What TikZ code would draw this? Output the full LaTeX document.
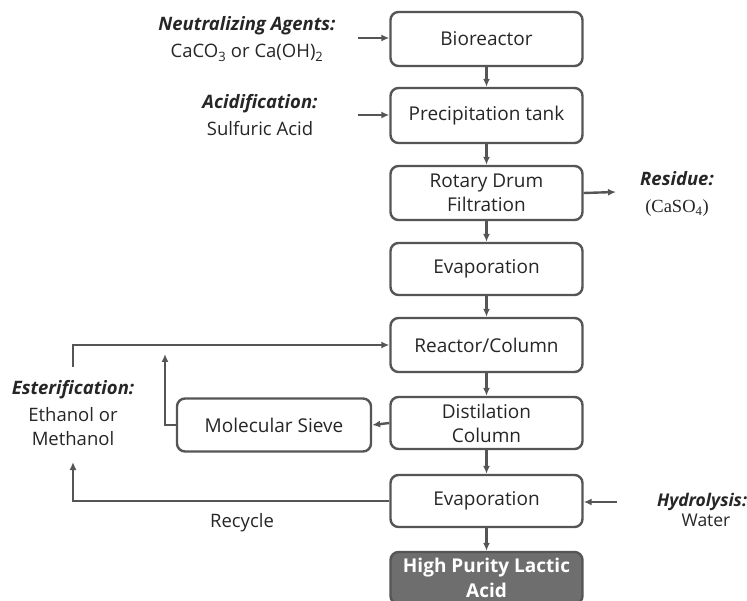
\documentclass[tikz,border=0pt]{standalone}
\usepackage{fontspec}
\setmainfont{Open Sans}
\newfontfamily\serifpart{Liberation Serif}
\usetikzlibrary{arrows.meta}
\definecolor{lc}{HTML}{555555}
\definecolor{tc}{HTML}{262626}
\definecolor{darkbox}{HTML}{6E6E6E}
\begin{document}
\begin{tikzpicture}[x=1pt,y=-1pt,
  stepbox/.style={draw=lc,line width=2.4pt,rounded corners=8pt,minimum width=192pt,inner sep=0pt,align=center,text=tc,font=\fontsize{19}{24}\selectfont},
  lbl/.style={align=center,text=tc,font=\fontsize{18.5}{27}\selectfont,inner sep=0pt},
  conn/.style={draw=lc,line width=2.4pt,-{Latex[length=8pt,width=7pt]}},
  plain/.style={draw=lc,line width=2.4pt}]
\clip (0,0) rectangle (747,601);
\fill[white] (0,0) rectangle (747,601);
\node[stepbox,minimum height=54pt] (bio) at (486.5,39) {Bioreactor};
\node[stepbox,minimum height=55pt] (prec) at (486.5,115.5) {Precipitation tank};
\node[stepbox,minimum height=54pt] (rot) at (486.5,193) {Rotary Drum\\Filtration};
\node[stepbox,minimum height=52pt] (evap1) at (486.5,269) {Evaporation};
\node[stepbox,minimum height=54pt] (reac) at (486.5,345) {Reactor/Column};
\node[stepbox,minimum height=52pt] (dist) at (486.5,423) {Distilation\\Column};
\node[stepbox,minimum height=52pt] (evap2) at (486.5,501) {Evaporation};
\node[stepbox,minimum height=52pt,fill=darkbox,text=white,font=\fontsize{19}{25}\selectfont\bfseries] (hp) at (486.5,578) {High Purity Lactic\\Acid};
\node[stepbox,minimum width=194pt,minimum height=53pt] (sieve) at (274,425) {Molecular Sieve};

\node[lbl] (neut) at (247,39) {\textbf{\textit{Neutralizing Agents:}}\\CaCO\textsubscript{3} or Ca(OH)\textsubscript{2}};
\node[lbl] (acid) at (260,115) {\textbf{\textit{Acidification:}}\\Sulfuric Acid};
\node[lbl] (res) at (677,194) {\textbf{\textit{Residue:}}\\{\serifpart (CaSO\textsubscript{4})}};
\node[lbl] (est) at (73,413) {\textbf{\textit{Esterification:}}\\Ethanol or\\[-3pt]Methanol};
\node[lbl,font=\fontsize{17.5}{27}\selectfont] (hyd) at (702,510) {\textbf{\textit{Hydrolysis:}}\\[-7pt]\hspace*{8pt}Water};
\node[lbl] (rec) at (242,523) {Recycle};

\coordinate (nstart) at (358,38);
\coordinate (astart) at (358,115);
\coordinate (rend) at (616,192);
\coordinate (hstart) at (617,502);
\coordinate (estop) at (73,367);
\coordinate (sievetip) at (165,354);
\coordinate (rectip) at (73,462);

\draw[conn] (bio) -- (prec);
\draw[conn] (prec) -- (rot);
\draw[conn] (rot) -- (evap1);
\draw[conn] (evap1) -- (reac);
\draw[conn] (reac) -- (dist);
\draw[conn] (dist) -- (evap2);
\draw[conn] (evap2) -- (hp);
\draw[conn] (nstart) -- (nstart -| bio.west);
\draw[conn] (astart) -- (astart -| prec.west);
\draw[conn] (rot.east) -- (rend);
\draw[conn] (hstart) -- (hstart -| evap2.east);
\draw[conn] (estop) |- (reac.west);
\draw[conn] (dist.west) -- (sieve.east);
\draw[conn] (sieve.west) -| (sievetip);
\draw[conn] (evap2.west) -| (rectip);
\end{tikzpicture}
\end{document}
